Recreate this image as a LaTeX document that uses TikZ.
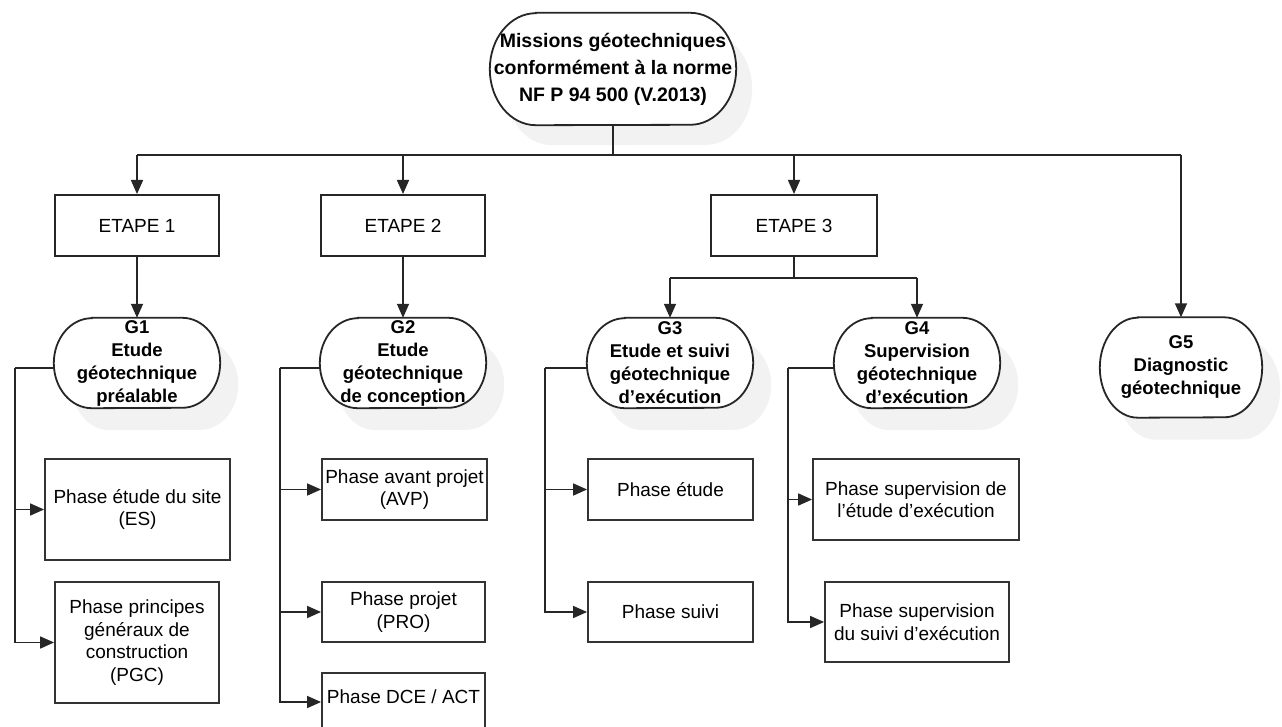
\documentclass[tikz,border=0pt]{standalone}
\usepackage{fontspec}
\setmainfont{Liberation Sans}
\usetikzlibrary{arrows.meta}
\pgfdeclarelayer{background}
\pgfsetlayers{background,main}

% terminator outline: node, corner x-radius, half height, x/y offset, path options
\newcommand\termpath[6]{%
  \path[#6] ([shift={(#4+#2,#5)}]#1.north west)
    -- ([shift={(#4-#2,#5)}]#1.north east)
    arc[start angle=90,end angle=-90,x radius=#2,y radius=#3]
    -- ([shift={(#4+#2,#5)}]#1.south west)
    arc[start angle=270,end angle=90,x radius=#2,y radius=#3] -- cycle;}

\tikzset{
  conn/.style={line width=1.5pt, draw=black!85},
  arr/.style={conn, -{Triangle[length=14pt,width=12pt]}},
  stepbox/.style={draw=black!85, line width=2pt, fill=white, minimum width=164pt,
    minimum height=61pt, inner sep=0pt, font=\fontsize{19}{22}\selectfont},
  phase/.style={draw=black!80, line width=1.8pt, fill=white, align=center,
    inner sep=0pt, font=\fontsize{19}{22.5}\selectfont},
  term/.style={align=center, inner sep=0pt, minimum width=166pt, minimum height=90pt,
    font=\bfseries\fontsize{18.5}{23}\selectfont},
  termshadow/.style={fill=black!5},
  termline/.style={draw=black!85, line width=1.8pt, fill=white},
}

\begin{document}
\begin{tikzpicture}[x=1pt,y=1pt]
\useasboundingbox (0,0) rectangle (1282,-727);

% root mission
\node[term, minimum width=246pt, minimum height=112pt,
      font=\bfseries\fontsize{19.5}{27}\selectfont] (top) at (613,-69)
  {Missions géotechniques\\conformément à la norme\\NF P 94 500 (V.2013)};

% stages
\node[stepbox] (e1) at (137,-225.5) {ETAPE 1};
\node[stepbox] (e2) at (403,-225.5) {ETAPE 2};
\node[stepbox, minimum width=166pt] (e3) at (794,-225.5) {ETAPE 3};

% missions G1..G5
\node[term] (g1) at (137,-363) {G1\\Etude\\géotechnique\\préalable};
\node[term] (g2) at (403,-363) {G2\\Etude\\géotechnique\\de conception};
\node[term] (g3) at (670,-363) {G3\\Etude et suivi\\géotechnique\\d'exécution};
\node[term] (g4) at (917,-363) {G4\\Supervision\\géotechnique\\d'exécution};
\node[term, minimum width=162pt, minimum height=100pt] (g5) at (1181,-367.5)
  {G5\\Diagnostic\\géotechnique};

% phases
\node[phase, minimum width=185pt, minimum height=101pt] (es) at (137.5,-509.5)
  {Phase étude du site\\(ES)};
\node[phase, minimum width=164pt, minimum height=121pt] (pgc) at (137,-642.5)
  {Phase principes\\généraux de\\construction\\(PGC)};
\node[phase, minimum width=165pt, minimum height=61pt] (avp) at (404.5,-489.5)
  {Phase avant projet\\(AVP)};
\node[phase, minimum width=163pt, minimum height=60pt] (pro) at (403.5,-612)
  {Phase projet\\(PRO)};
\node[phase, minimum width=163pt, anchor=north, text height=31pt, text depth=40pt]
  (dce) at (403.5,-672) {Phase DCE / ACT};
\node[phase, minimum width=165pt, minimum height=61pt] (pe) at (670.5,-489.5)
  {Phase étude};
\node[phase, minimum width=165pt, minimum height=60pt] (ps) at (670.5,-612)
  {Phase suivi};
\node[phase, minimum width=206pt, minimum height=81pt] (sve) at (916,-499.5)
  {Phase supervision de\\l'étude d'exécution};
\node[phase, minimum width=184pt, minimum height=80pt] (svs) at (917,-622)
  {Phase supervision\\du suivi d'exécution};

% page background, then rounded outlines with soft shadow
\begin{pgfonlayer}{background}
  \fill[white] (0,0) rectangle (1282,-727);
  \termpath{top}{46pt}{56pt}{16pt}{-20pt}{termshadow}
  \termpath{top}{46pt}{56pt}{0pt}{0pt}{termline}
  \foreach \g in {g1,g2,g3,g4}{
    \termpath{\g}{38pt}{45pt}{18pt}{-22pt}{termshadow}
    \termpath{\g}{38pt}{45pt}{0pt}{0pt}{termline}
  }
  \termpath{g5}{38pt}{50pt}{18pt}{-22pt}{termshadow}
  \termpath{g5}{38pt}{50pt}{0pt}{0pt}{termline}
\end{pgfonlayer}

% root to stages
\coordinate (bus) at (613,-155);
\draw[conn] (top.south) -- (bus);
\draw[conn] (e1.north |- bus) -- (g5.north |- bus);
\draw[arr] (e1.north |- bus) -- (e1.north);
\draw[arr] (e2.north |- bus) -- (e2.north);
\draw[arr] (e3.north |- bus) -- (e3.north);
\draw[arr] (g5.north |- bus) -- (g5.north);

% stages to missions
\draw[arr] (e1.south) -- (g1.north);
\draw[arr] (e2.south) -- (g2.north);
\coordinate (split) at (794,-278);
\draw[conn] (e3.south) -- (split);
\draw[conn] (g3.north |- split) -- (g4.north |- split);
\draw[arr] (g3.north |- split) -- (g3.north);
\draw[arr] (g4.north |- split) -- (g4.north);

% missions to phases
\coordinate (b1) at (15,-368);
\draw[conn] (b1 -| g1.west) -- (b1);
\draw[arr] (b1) |- (es.west);
\draw[arr] (b1) |- (pgc.west);

\coordinate (b2) at (280,-368);
\draw[conn] (b2 -| g2.west) -- (b2);
\draw[arr] (b2) |- (avp.west);
\draw[arr] (b2) |- (pro.west);
\draw[arr] (b2) |- ([yshift=-30pt]dce.north west);

\coordinate (b3) at (545,-368);
\draw[conn] (b3 -| g3.west) -- (b3);
\draw[arr] (b3) |- (pe.west);
\draw[arr] (b3) |- (ps.west);

\coordinate (b4) at (788,-368);
\draw[conn] (b4 -| g4.west) -- (b4);
\draw[arr] (b4) |- (sve.west);
\draw[arr] (b4) |- (svs.west);
\end{tikzpicture}
\end{document}
